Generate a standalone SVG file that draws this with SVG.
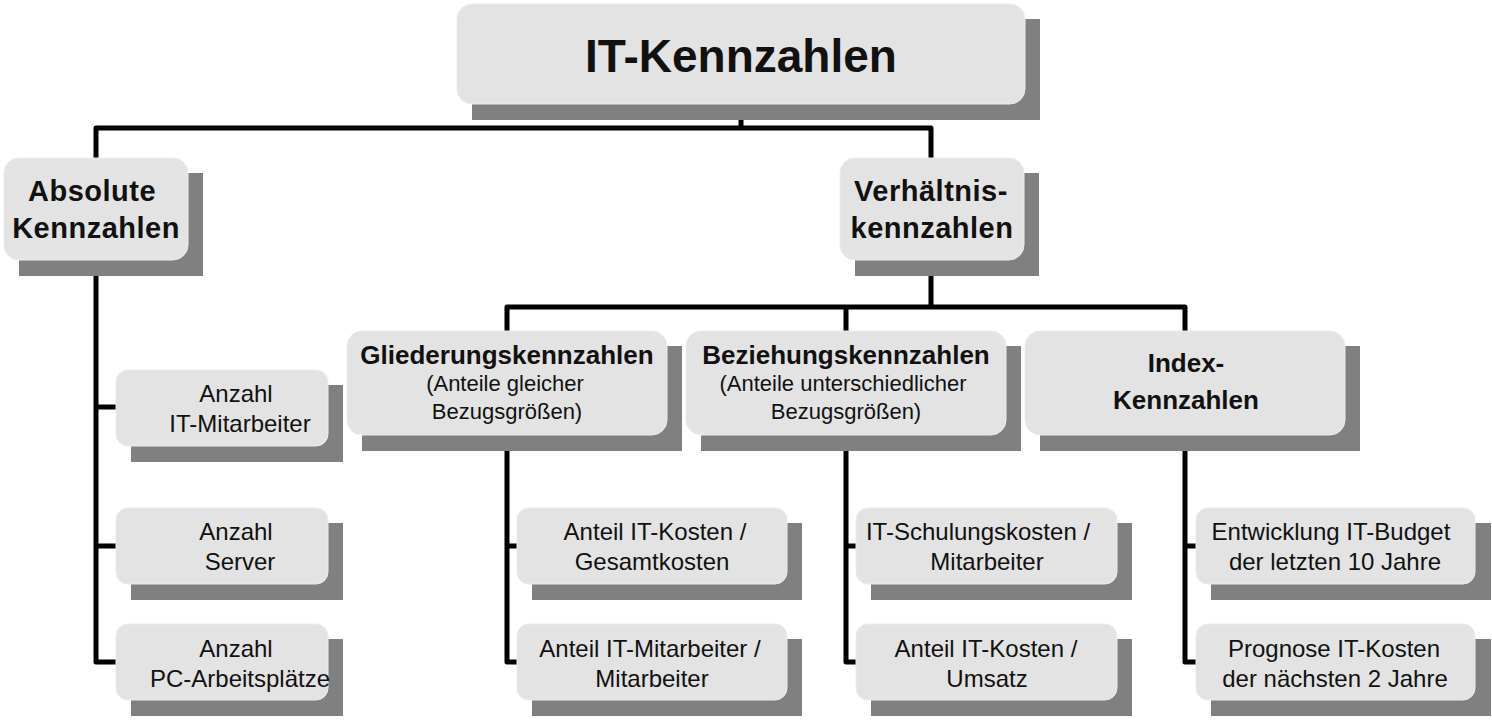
<svg xmlns="http://www.w3.org/2000/svg" width="1492" height="720" viewBox="0 0 1492 720">
<style>
.sh{fill:#808080}
.bx{fill:#e3e3e3;stroke:#ececec;stroke-width:1}
.ln{fill:none;stroke:#000;stroke-width:5;stroke-linejoin:round;stroke-linecap:butt}
text{font-family:"Liberation Sans",Arial,sans-serif;fill:#111;text-anchor:middle}
.t0{font-size:46px;font-weight:bold}
.t1{font-size:29px;font-weight:bold;letter-spacing:0.5px}
.t2{font-size:26px;font-weight:bold}
.t3{font-size:22px}
.t4{font-size:24px}
</style>
<rect width="1492" height="720" fill="#fff"/>
<g id="connectors">
<path class="ln" d="M741,104 V128 M96,158 V128 H931 V158"/>
<path class="ln" d="M96,260 V662 H116 M96,407 H116 M96,546 H116"/>
<path class="ln" d="M931,260 V307 M507,331 V307 H1185 V331 M846,307 V331"/>
<path class="ln" d="M507,435 V662 H517 M507,546 H517"/>
<path class="ln" d="M846,435 V662 H856 M846,546 H856"/>
<path class="ln" d="M1185,435 V662 H1196 M1185,546 H1196"/>
</g>
<g id="root">
<rect class="sh" x="472" y="19" width="568" height="101"/>
<rect class="bx" x="457" y="4" width="568" height="100" rx="15"/>
<text class="t0" x="741" y="72">IT-Kennzahlen</text>
</g>
<g id="absolute">
<rect class="sh" x="19" y="173" width="184" height="103"/>
<rect class="bx" x="4" y="158" width="184" height="102" rx="15"/>
<text class="t1" x="92" y="201">Absolute</text>
<text class="t1" x="96" y="238">Kennzahlen</text>
</g>
<g id="verhaeltnis">
<rect class="sh" x="855" y="173" width="184" height="103"/>
<rect class="bx" x="840" y="158" width="184" height="102" rx="15"/>
<text class="t1" x="931" y="201">Verhältnis-</text>
<text class="t1" x="932" y="238">kennzahlen</text>
</g>
<g id="abs1">
<rect class="sh" x="131" y="385" width="212" height="77"/>
<rect class="bx" x="116" y="370" width="212" height="76" rx="12"/>
<text class="t4" x="236" y="402">Anzahl</text>
<text class="t4" x="240" y="432">IT-Mitarbeiter</text>
</g>
<g id="abs2">
<rect class="sh" x="131" y="523" width="212" height="77"/>
<rect class="bx" x="116" y="508" width="212" height="76" rx="12"/>
<text class="t4" x="236" y="540">Anzahl</text>
<text class="t4" x="240" y="570">Server</text>
</g>
<g id="abs3">
<rect class="sh" x="131" y="639" width="212" height="77"/>
<rect class="bx" x="116" y="624" width="212" height="76" rx="12"/>
<text class="t4" x="236" y="657">Anzahl</text>
<text class="t4" x="240" y="687">PC-Arbeitsplätze</text>
</g>
<g id="gliederung">
<rect class="sh" x="362" y="346" width="320" height="105"/>
<rect class="bx" x="347" y="331" width="320" height="104" rx="15"/>
<text class="t2" x="507" y="364">Gliederungskennzahlen</text>
<text class="t3" x="505" y="391">(Anteile gleicher</text>
<text class="t3" x="507" y="419">Bezugsgrößen)</text>
</g>
<g id="beziehung">
<rect class="sh" x="701" y="346" width="320" height="105"/>
<rect class="bx" x="686" y="331" width="320" height="104" rx="15"/>
<text class="t2" x="846" y="364">Beziehungskennzahlen</text>
<text class="t3" x="843" y="391">(Anteile unterschiedlicher</text>
<text class="t3" x="846" y="419">Bezugsgrößen)</text>
</g>
<g id="index">
<rect class="sh" x="1040" y="346" width="320" height="105"/>
<rect class="bx" x="1025" y="331" width="320" height="104" rx="15"/>
<text class="t2" x="1186" y="372">Index-</text>
<text class="t2" x="1186" y="409">Kennzahlen</text>
</g>
<g id="gl1">
<rect class="sh" x="532" y="523" width="270" height="77"/>
<rect class="bx" x="517" y="508" width="270" height="76" rx="12"/>
<text class="t4" x="655" y="540">Anteil IT-Kosten /</text>
<text class="t4" x="652" y="570">Gesamtkosten</text>
</g>
<g id="gl2">
<rect class="sh" x="532" y="639" width="270" height="77"/>
<rect class="bx" x="517" y="624" width="270" height="76" rx="12"/>
<text class="t4" x="650" y="657">Anteil IT-Mitarbeiter /</text>
<text class="t4" x="652" y="687">Mitarbeiter</text>
</g>
<g id="bz1">
<rect class="sh" x="871" y="523" width="261" height="77"/>
<rect class="bx" x="856" y="508" width="261" height="76" rx="12"/>
<text class="t4" x="978" y="540">IT-Schulungskosten /</text>
<text class="t4" x="987" y="570">Mitarbeiter</text>
</g>
<g id="bz2">
<rect class="sh" x="871" y="639" width="261" height="77"/>
<rect class="bx" x="856" y="624" width="261" height="76" rx="12"/>
<text class="t4" x="986" y="657">Anteil IT-Kosten /</text>
<text class="t4" x="987" y="687">Umsatz</text>
</g>
<g id="ix1">
<rect class="sh" x="1211" y="523" width="280" height="77"/>
<rect class="bx" x="1196" y="508" width="279" height="76" rx="12"/>
<text class="t4" x="1331" y="540">Entwicklung IT-Budget</text>
<text class="t4" x="1335" y="570">der letzten 10 Jahre</text>
</g>
<g id="ix2">
<rect class="sh" x="1211" y="639" width="280" height="77"/>
<rect class="bx" x="1196" y="624" width="279" height="76" rx="12"/>
<text class="t4" x="1334" y="657">Prognose IT-Kosten</text>
<text class="t4" x="1335" y="687">der nächsten 2 Jahre</text>
</g>
</svg>
